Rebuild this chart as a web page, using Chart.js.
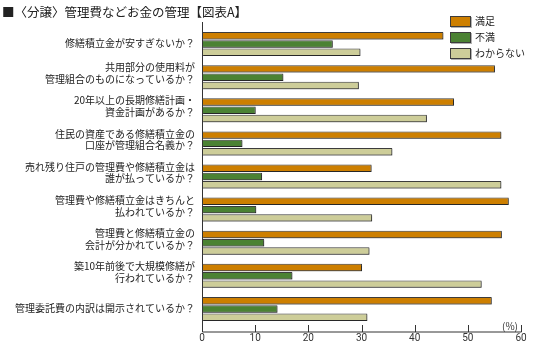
<!DOCTYPE html>
<html lang="ja">
<head>
<meta charset="utf-8">
<script src="https://cdn.jsdelivr.net/npm/chart.js@4.4.1/dist/chart.umd.min.js"></script>
<style>
  html, body { margin: 0; padding: 0; background: #fff; }
  #wrap { position: relative; width: 544px; height: 346px; }
</style>
</head>
<body>
<div id="wrap"><canvas id="moneyChart" width="544" height="346"></canvas></div>
<script>
// ---- data ----
const chartTitle = '■〈分譲〉管理費などお金の管理【図表A】';
const questions = [
    ['修繕積立金が安すぎないか？'],
    ['共用部分の使用料が', '管理組合のものになっているか？'],
    ['20年以上の長期修繕計画・', '資金計画があるか？'],
    ['住民の資産である修繕積立金の', '口座が管理組合名義か？'],
    ['売れ残り住戸の管理費や修繕積立金は', '誰が払っているか？'],
    ['管理費や修繕積立金はきちんと', '払われているか？'],
    ['管理費と修繕積立金の', '会計が分かれているか？'],
    ['築10年前後で大規模修繕が', '行われているか？'],
    ['管理委託費の内訳は開示されているか？']
];
const seriesNames = ['満足', '不満', 'わからない'];
const satisfied    = [45.4, 55.1, 47.4, 56.3, 31.9, 57.7, 56.4, 30.1, 54.5];
const dissatisfied = [24.6, 15.3, 10.1, 7.6, 11.3, 10.2, 11.7, 17.0, 14.2];
const unknown      = [29.8, 29.5, 42.3, 35.8, 56.3, 32.0, 31.5, 52.6, 31.1];
const xTicks = [0, 10, 20, 30, 40, 50, 60];
const unitLabel = '(%)';

const colors = ['#cd7f00', '#4b8233', '#cdcd99'];
const edge = '#3c3c3c';
const jpFont = '"Noto Sans CJK JP", "Noto Sans", sans-serif';

// title, legend, question labels, axis lines and the unit mark
const decorations = {
    id: 'decorations',
    beforeDatasetsDraw(chart) {
        // soft drop shadow under each bar
        const ctx = chart.ctx;
        ctx.save();
        ctx.shadowColor = 'rgba(0,0,0,0.35)';
        ctx.shadowOffsetX = 1;
        ctx.shadowOffsetY = 1;
        ctx.shadowBlur = 0;
    },
    afterDatasetsDraw(chart) {
        chart.ctx.restore();
    },
    afterDraw(chart) {
        const ctx = chart.ctx;
        const area = chart.chartArea;
        const xs = chart.scales.x;
        const ys = chart.scales.y;
        const x0 = xs.getPixelForValue(xTicks[0]);
        const xEnd = xs.getPixelForValue(xTicks[xTicks.length - 1]);
        const axisTop = area.top - 5.5;
        const axisY = area.bottom + 6.5;

        ctx.save();
        ctx.strokeStyle = '#333';
        ctx.lineWidth = 1;
        ctx.beginPath();
        ctx.moveTo(x0 + 0.5, axisTop);
        ctx.lineTo(x0 + 0.5, axisY);
        ctx.lineTo(xEnd + 0.5, axisY);
        xTicks.slice(1).forEach(v => {
            const px = Math.round(xs.getPixelForValue(v)) + 0.5;
            ctx.moveTo(px, axisY);
            ctx.lineTo(px, axisY - 7);
        });
        ctx.stroke();

        // question labels: two-line ones sit a little high, like the print
        ctx.fillStyle = '#222';
        ctx.font = '10px ' + jpFont;
        ctx.textAlign = 'right';
        ctx.textBaseline = 'middle';
        chart.data.labels.forEach((lines, i) => {
            const cy = ys.getPixelForValue(i);
            if (lines.length === 1) {
                ctx.fillText(lines[0], x0 - 7, cy - 0.7);
            } else {
                ctx.fillText(lines[0], x0 - 7, cy - 9.6);
                ctx.fillText(lines[1], x0 - 7, cy + 2.2);
            }
        });

        // unit
        ctx.fillStyle = '#333';
        ctx.textBaseline = 'alphabetic';
        ctx.fillText(unitLabel, xEnd - 3, axisY - 2);

        // title
        ctx.fillStyle = '#222';
        ctx.font = '12.5px ' + jpFont;
        ctx.textAlign = 'left';
        ctx.textBaseline = 'middle';
        ctx.fillText(chartTitle, 2, 12);

        // legend
        ctx.font = '10px ' + jpFont;
        chart.data.datasets.forEach((ds, i) => {
            const bx = 450, by = 16 + i * 16;
            ctx.fillStyle = 'rgba(0,0,0,0.3)';
            ctx.fillRect(bx + 1, by + 1, 21, 11);
            ctx.fillStyle = ds.backgroundColor;
            ctx.fillRect(bx, by, 21, 11);
            ctx.strokeStyle = edge;
            ctx.strokeRect(bx + 0.5, by + 0.5, 20, 10);
            ctx.fillStyle = '#222';
            ctx.fillText(ds.label, 475, by + 5.5);
        });
        ctx.restore();
    }
};

new Chart(document.getElementById('moneyChart'), {
    type: 'bar',
    data: {
        labels: questions,
        datasets: [satisfied, dissatisfied, unknown].map((vals, i) => ({
            label: seriesNames[i],
            data: vals,
            backgroundColor: colors[i],
            borderColor: edge,
            borderWidth: 1,
            borderSkipped: false,
            categoryPercentage: 0.75,
            barPercentage: 0.9
        }))
    },
    options: {
        indexAxis: 'y',
        responsive: false,
        devicePixelRatio: 1,
        animation: false,
        layout: { padding: { top: 27.5, right: 23, bottom: 0, left: 0 } },
        plugins: {
            legend: { display: false },
            title: { display: false },
            tooltip: { enabled: false }
        },
        scales: {
            x: {
                min: 0,
                max: 60,
                grid: { display: false, drawTicks: false },
                border: { display: false },
                ticks: {
                    stepSize: 10,
                    padding: 7,
                    color: '#333',
                    font: { family: 'Roboto, sans-serif', size: 10 }
                },
                afterFit: scale => { scale.height = 20.5; }
            },
            y: {
                grid: { display: false, drawTicks: false },
                border: { display: false },
                ticks: { display: false },
                afterFit: scale => { scale.width = 202; }
            }
        }
    },
    plugins: [decorations]
});
</script>
</body>
</html>
